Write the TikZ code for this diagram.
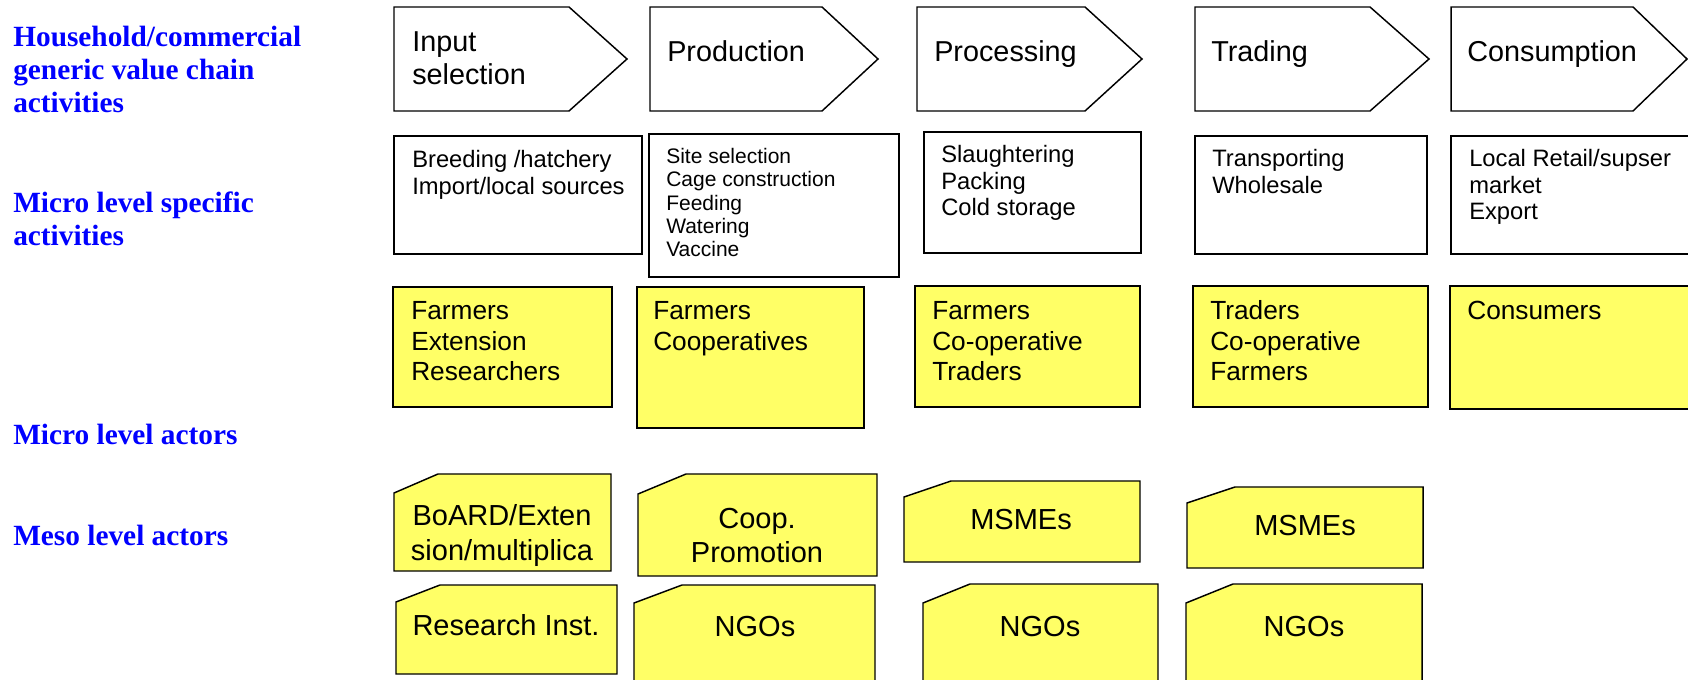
\documentclass[tikz,border=0pt]{standalone}
\usepackage{fontspec}
\setmainfont{Liberation Serif}
\setsansfont{Liberation Sans}
\definecolor{lblblue}{RGB}{0,0,255}
\definecolor{actyel}{RGB}{255,255,102}
\tikzset{
  outl/.style={draw=black, line width=1.1pt, line join=miter},
  whitebox/.style={outl, fill=white},
  yelbox/.style={outl, fill=actyel},
  lbl/.style={anchor=base west, inner sep=0pt, align=left, text=lblblue,
    font=\bfseries\fontsize{22}{24.75}\selectfont},
  bigtxt/.style={anchor=base west, inner sep=0pt, align=left,
    font=\sffamily\fontsize{21.6}{24.75}\selectfont},
  midtxt/.style={anchor=base west, inner sep=0pt, align=left,
    font=\sffamily\fontsize{17.8}{19.9}\selectfont},
  smalltxt/.style={anchor=base west, inner sep=0pt, align=left,
    font=\sffamily\fontsize{15.75}{17.6}\selectfont},
  acttxt/.style={anchor=base west, inner sep=0pt, align=left,
    font=\sffamily\fontsize{19.7}{22.9}\selectfont},
  mesotxt/.style={anchor=base, inner sep=0pt, align=center,
    font=\sffamily\fontsize{21.75}{25.5}\selectfont},
}
% multi-line nodes are placed by the baseline of their last line
\newcommand\vcpent[3]{\draw[whitebox] (#1,7) -- (#2,7) -- (#3,59) -- (#2,111) -- (#1,111) -- cycle;}
\newcommand\vcrect[4]{\draw[whitebox] (#1,#2) rectangle (#3,#4);}
\newcommand\vcyrect[4]{\draw[yelbox] (#1,#2) rectangle (#3,#4);}
\newcommand\vccut[6]{\draw[yelbox] (#1,#2) -- (#3,#4) -- (#5,#4) -- (#5,#6) -- (#1,#6) -- cycle;}
\begin{document}
\begin{tikzpicture}[x=0.75pt,y=-0.75pt]
\clip (0,0) rectangle (1688,680);
\fill[white] (0,0) rectangle (1688,680);

% left labels
\node[lbl] (l1) at (13,113) {Household/commercial\\generic value chain\\activities};
\node[lbl] (l2) at (13,246) {Micro level specific\\activities};
\node[lbl] (l3) at (13,445) {Micro level actors};
\node[lbl] (l4) at (13,546) {Meso level actors};

% row 1: generic activities
\vcpent{394}{569}{627}
\vcpent{650}{822}{878}
\vcpent{917}{1085}{1142}
\vcpent{1195}{1370}{1429}
\vcpent{1451}{1633}{1687}
\node[bigtxt] (p1) at (412,85) {Input\\selection};
\node[bigtxt] (p2) at (667,62) {Production};
\node[bigtxt] (p3) at (934,62) {Processing};
\node[bigtxt] (p4) at (1211,62) {Trading};
\node[bigtxt] (p5) at (1467,62) {Consumption};

% row 2: specific activities
\vcrect{394}{136}{642}{254}
\vcrect{649}{134}{899}{277}
\vcrect{924}{132}{1141}{253}
\vcrect{1195}{136}{1427}{254}
\vcrect{1451}{136}{1700}{254}
\node[midtxt] (s1) at (412,194.5) {Breeding /hatchery\\Import/local sources};
\node[smalltxt] (s2) at (666,257) {Site selection\\Cage construction\\Feeding\\Watering\\Vaccine};
\node[midtxt] (s3) at (941,216) {Slaughtering\\Packing\\Cold storage};
\node[midtxt] (s4) at (1212,193.5) {Transporting\\Wholesale};
\node[midtxt] (s5) at (1469,220) {Local Retail/supser\\market\\Export};

% row 3: micro actors
\vcyrect{393}{287}{612}{407}
\vcyrect{637}{287}{864}{428}
\vcyrect{915}{286}{1140}{407}
\vcyrect{1193}{286}{1428}{407}
\vcyrect{1450}{286}{1700}{409}
\node[acttxt] (a1) at (411,381) {Farmers\\Extension\\Researchers};
\node[acttxt] (a2) at (653,350.5) {Farmers\\Cooperatives};
\node[acttxt] (a3) at (932,381) {Farmers\\Co-operative\\Traders};
\node[acttxt] (a4) at (1210,381) {Traders\\Co-operative\\Farmers};
\node[acttxt] (a5) at (1467,320) {Consumers};

% meso actors, first row
\vccut{394}{493}{438}{474}{611}{571}
\vccut{638}{494}{686}{474}{877}{576}
\vccut{904}{497}{951}{481}{1140}{562}
\vccut{1187}{503}{1235}{487}{1423}{568}
\node[mesotxt] (m1) at (502,560) {BoARD/Exten\\sion/multiplica};
\node[mesotxt] (m2) at (757,562) {Coop.\\Promotion};
\node[mesotxt] (m3) at (1021,529) {MSMEs};
\node[mesotxt] (m4) at (1305,536) {MSMEs};

% meso actors, second row
\vccut{396}{602}{440}{585}{617}{674}
\vccut{634}{603}{682}{585}{875}{700}
\vccut{923}{603}{970}{584}{1158}{700}
\vccut{1186}{603}{1233}{584}{1422}{700}
\node[mesotxt] (r1) at (506,635) {Research Inst.};
\node[mesotxt] (r2) at (755,636) {NGOs};
\node[mesotxt] (r3) at (1040,636) {NGOs};
\node[mesotxt] (r4) at (1304,636) {NGOs};
\end{tikzpicture}
\end{document}
